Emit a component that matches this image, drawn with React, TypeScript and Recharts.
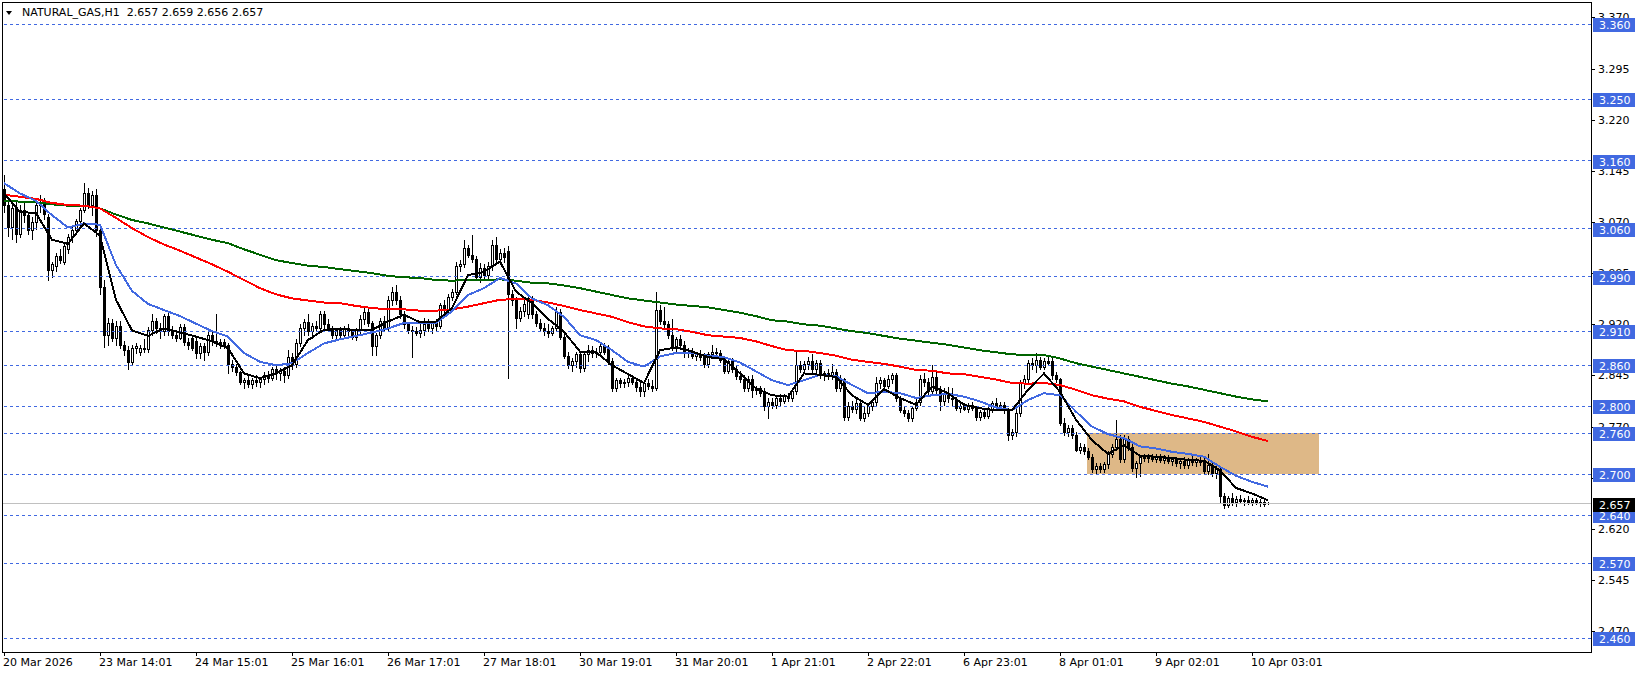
import React from 'react';
import { ComposedChart, Bar, Line, XAxis, YAxis, ReferenceLine, ReferenceArea } from 'recharts';

// H1 candles, [open, high, low, close]
const CANDLES_A = [
  [3.118, 3.139, 3.085, 3.095], [3.095, 3.105, 3.050, 3.062], [3.062, 3.098, 3.045, 3.090], [3.090, 3.100, 3.040, 3.052],
  [3.052, 3.095, 3.048, 3.088], [3.088, 3.098, 3.070, 3.080], [3.080, 3.085, 3.052, 3.058], [3.058, 3.078, 3.045, 3.070],
  [3.070, 3.100, 3.060, 3.095], [3.095, 3.110, 3.085, 3.100], [3.100, 3.105, 3.075, 3.082], [3.078, 3.082, 2.985, 3.000],
  [3.000, 3.012, 2.990, 3.008], [3.005, 3.025, 2.998, 3.020], [3.020, 3.030, 3.010, 3.015], [3.012, 3.040, 3.008, 3.035],
  [3.030, 3.052, 3.025, 3.048], [3.048, 3.062, 3.040, 3.058], [3.058, 3.075, 3.052, 3.072], [3.072, 3.090, 3.065, 3.088],
  [3.088, 3.127, 3.085, 3.112], [3.112, 3.120, 3.090, 3.095], [3.095, 3.115, 3.080, 3.110], [3.110, 3.118, 3.050, 3.058],
  [3.058, 3.062, 2.965, 2.975], [2.975, 2.985, 2.887, 2.905], [2.905, 2.930, 2.890, 2.922], [2.922, 2.928, 2.895, 2.900],
  [2.900, 2.925, 2.890, 2.918], [2.918, 2.925, 2.885, 2.890], [2.890, 2.895, 2.875, 2.882], [2.882, 2.888, 2.855, 2.865],
  [2.865, 2.890, 2.862, 2.885], [2.885, 2.893, 2.878, 2.888], [2.880, 2.890, 2.875, 2.886], [2.886, 2.898, 2.880, 2.884],
  [2.884, 2.916, 2.880, 2.912], [2.912, 2.935, 2.905, 2.925], [2.925, 2.930, 2.908, 2.915], [2.915, 2.922, 2.900, 2.910],
  [2.910, 2.935, 2.905, 2.932], [2.932, 2.938, 2.905, 2.910], [2.910, 2.918, 2.900, 2.905], [2.905, 2.912, 2.896, 2.900],
  [2.900, 2.920, 2.898, 2.916], [2.916, 2.920, 2.890, 2.894], [2.894, 2.900, 2.884, 2.890], [2.900, 2.905, 2.882, 2.886],
  [2.895, 2.900, 2.870, 2.878], [2.878, 2.892, 2.870, 2.888], [2.888, 2.892, 2.868, 2.880], [2.880, 2.910, 2.875, 2.905],
  [2.905, 2.910, 2.890, 2.895], [2.895, 2.935, 2.888, 2.892], [2.892, 2.898, 2.885, 2.894], [2.894, 2.898, 2.885, 2.889],
  [2.889, 2.892, 2.848, 2.862], [2.862, 2.868, 2.852, 2.858], [2.858, 2.862, 2.845, 2.850], [2.850, 2.852, 2.832, 2.835],
  [2.835, 2.842, 2.826, 2.838], [2.838, 2.845, 2.828, 2.832], [2.832, 2.842, 2.827, 2.838], [2.838, 2.846, 2.830, 2.835],
  [2.835, 2.843, 2.828, 2.840], [2.840, 2.850, 2.832, 2.845], [2.845, 2.852, 2.836, 2.842], [2.842, 2.858, 2.838, 2.855],
  [2.855, 2.862, 2.840, 2.848], [2.848, 2.856, 2.838, 2.852], [2.852, 2.858, 2.835, 2.845], [2.845, 2.882, 2.842, 2.872],
  [2.872, 2.878, 2.855, 2.862], [2.862, 2.898, 2.858, 2.893], [2.893, 2.920, 2.888, 2.915], [2.915, 2.928, 2.905, 2.924],
  [2.924, 2.935, 2.905, 2.910], [2.910, 2.922, 2.900, 2.918], [2.918, 2.925, 2.910, 2.915], [2.915, 2.940, 2.912, 2.935],
];

const CANDLES_B = [
  [2.935, 2.940, 2.915, 2.920], [2.920, 2.928, 2.910, 2.913], [2.913, 2.918, 2.900, 2.905], [2.905, 2.915, 2.900, 2.912],
  [2.912, 2.916, 2.900, 2.904], [2.904, 2.918, 2.900, 2.914], [2.914, 2.920, 2.905, 2.910], [2.910, 2.913, 2.898, 2.902],
  [2.902, 2.915, 2.897, 2.912], [2.912, 2.934, 2.908, 2.928], [2.928, 2.944, 2.920, 2.938], [2.938, 2.942, 2.918, 2.922],
  [2.922, 2.925, 2.875, 2.888], [2.888, 2.908, 2.875, 2.905], [2.905, 2.930, 2.900, 2.925], [2.925, 2.932, 2.910, 2.915],
  [2.915, 2.962, 2.910, 2.955], [2.955, 2.975, 2.948, 2.968], [2.968, 2.978, 2.950, 2.955], [2.955, 2.962, 2.930, 2.935],
  [2.935, 2.940, 2.915, 2.920], [2.920, 2.924, 2.908, 2.912], [2.912, 2.918, 2.872, 2.910], [2.910, 2.916, 2.905, 2.908],
  [2.908, 2.920, 2.902, 2.912], [2.912, 2.930, 2.905, 2.920], [2.920, 2.928, 2.910, 2.915], [2.915, 2.925, 2.908, 2.922],
  [2.922, 2.928, 2.912, 2.918], [2.918, 2.952, 2.914, 2.948], [2.948, 2.955, 2.938, 2.942], [2.942, 2.965, 2.938, 2.960],
  [2.960, 2.972, 2.955, 2.968], [2.968, 3.012, 2.964, 3.005], [3.005, 3.015, 2.998, 3.008], [3.008, 3.044, 3.004, 3.032],
  [3.032, 3.036, 3.018, 3.022], [3.022, 3.051, 3.012, 3.016], [3.016, 3.020, 2.985, 2.990], [2.990, 3.010, 2.982, 3.002],
  [3.002, 3.008, 2.985, 2.992], [2.992, 3.012, 2.988, 3.005], [3.005, 3.044, 3.000, 3.036], [3.036, 3.048, 3.012, 3.016],
  [3.016, 3.030, 3.010, 3.025], [3.025, 3.032, 3.012, 3.018], [3.028, 3.035, 2.841, 2.965], [2.965, 2.970, 2.948, 2.955],
  [2.955, 2.960, 2.915, 2.930], [2.930, 2.945, 2.925, 2.940], [2.940, 2.960, 2.932, 2.950], [2.935, 2.962, 2.930, 2.958],
  [2.958, 2.962, 2.930, 2.935], [2.935, 2.940, 2.918, 2.922], [2.922, 2.928, 2.910, 2.915], [2.915, 2.922, 2.905, 2.910],
  [2.910, 2.920, 2.902, 2.908], [2.908, 2.918, 2.904, 2.915], [2.915, 2.945, 2.912, 2.938], [2.938, 2.942, 2.898, 2.902],
  [2.902, 2.906, 2.870, 2.874], [2.874, 2.880, 2.856, 2.860], [2.860, 2.870, 2.851, 2.866], [2.866, 2.880, 2.858, 2.876],
  [2.876, 2.880, 2.850, 2.856], [2.856, 2.880, 2.852, 2.876], [2.876, 2.890, 2.866, 2.882], [2.882, 2.888, 2.872, 2.878],
  [2.878, 2.886, 2.872, 2.880], [2.880, 2.892, 2.876, 2.888], [2.888, 2.892, 2.876, 2.880], [2.885, 2.890, 2.862, 2.866],
  [2.866, 2.870, 2.822, 2.826], [2.826, 2.842, 2.822, 2.838], [2.838, 2.842, 2.828, 2.834], [2.834, 2.840, 2.828, 2.836],
  [2.836, 2.846, 2.830, 2.842], [2.842, 2.846, 2.832, 2.836], [2.836, 2.840, 2.822, 2.828],
];

const CANDLES_C = [
  [2.828, 2.836, 2.815, 2.822], [2.822, 2.838, 2.815, 2.834], [2.834, 2.840, 2.825, 2.830], [2.830, 2.838, 2.822, 2.826],
  [2.826, 2.968, 2.824, 2.941], [2.941, 2.948, 2.920, 2.925], [2.925, 2.945, 2.915, 2.920], [2.920, 2.925, 2.900, 2.905],
  [2.905, 2.928, 2.882, 2.888], [2.888, 2.902, 2.878, 2.898], [2.898, 2.905, 2.885, 2.889], [2.889, 2.895, 2.872, 2.878],
  [2.878, 2.885, 2.872, 2.880], [2.880, 2.886, 2.870, 2.874], [2.874, 2.880, 2.868, 2.876], [2.876, 2.882, 2.868, 2.872],
  [2.872, 2.878, 2.858, 2.862], [2.862, 2.880, 2.858, 2.876], [2.876, 2.890, 2.870, 2.880], [2.880, 2.886, 2.872, 2.878],
  [2.878, 2.882, 2.865, 2.868], [2.868, 2.872, 2.848, 2.852], [2.852, 2.870, 2.848, 2.866], [2.866, 2.870, 2.850, 2.855],
  [2.855, 2.860, 2.840, 2.844], [2.844, 2.852, 2.836, 2.840], [2.840, 2.846, 2.822, 2.826], [2.826, 2.844, 2.822, 2.840],
  [2.840, 2.846, 2.814, 2.824], [2.824, 2.830, 2.818, 2.826], [2.826, 2.830, 2.815, 2.820], [2.820, 2.826, 2.795, 2.800],
  [2.800, 2.812, 2.783, 2.806], [2.806, 2.812, 2.798, 2.802], [2.802, 2.815, 2.798, 2.812], [2.812, 2.818, 2.802, 2.808],
  [2.808, 2.818, 2.805, 2.815], [2.815, 2.820, 2.808, 2.812], [2.812, 2.826, 2.808, 2.822], [2.822, 2.880, 2.818, 2.860],
  [2.860, 2.866, 2.850, 2.855], [2.855, 2.866, 2.850, 2.862], [2.862, 2.872, 2.855, 2.866], [2.866, 2.876, 2.850, 2.855],
  [2.855, 2.868, 2.850, 2.864], [2.864, 2.868, 2.842, 2.846], [2.846, 2.852, 2.838, 2.848], [2.848, 2.854, 2.840, 2.845],
  [2.845, 2.862, 2.840, 2.850], [2.850, 2.855, 2.822, 2.826], [2.826, 2.845, 2.822, 2.838], [2.840, 2.842, 2.780, 2.784],
  [2.784, 2.806, 2.780, 2.800], [2.800, 2.808, 2.792, 2.796], [2.796, 2.810, 2.790, 2.804], [2.804, 2.808, 2.780, 2.782],
  [2.782, 2.800, 2.778, 2.790], [2.790, 2.805, 2.786, 2.800], [2.800, 2.810, 2.795, 2.806], [2.806, 2.843, 2.802, 2.834],
  [2.834, 2.843, 2.826, 2.838], [2.838, 2.842, 2.826, 2.830], [2.830, 2.846, 2.826, 2.840], [2.840, 2.848, 2.834, 2.845],
  [2.845, 2.848, 2.808, 2.812], [2.812, 2.815, 2.792, 2.795], [2.795, 2.800, 2.785, 2.790], [2.790, 2.795, 2.778, 2.782],
  [2.782, 2.800, 2.778, 2.798], [2.798, 2.810, 2.794, 2.806], [2.806, 2.845, 2.802, 2.840], [2.840, 2.848, 2.830, 2.836],
  [2.836, 2.842, 2.818, 2.822], [2.822, 2.860, 2.818, 2.843], [2.843, 2.850, 2.820, 2.824], [2.824, 2.830, 2.795, 2.808],
  [2.808, 2.826, 2.802, 2.820], [2.820, 2.828, 2.806, 2.812],
];

const CANDLES_D = [
  [2.812, 2.826, 2.800, 2.810], [2.810, 2.814, 2.795, 2.798], [2.798, 2.804, 2.792, 2.800], [2.800, 2.805, 2.794, 2.796],
  [2.796, 2.804, 2.792, 2.802], [2.802, 2.806, 2.794, 2.797], [2.797, 2.800, 2.780, 2.784], [2.784, 2.795, 2.780, 2.792],
  [2.792, 2.796, 2.782, 2.786], [2.786, 2.800, 2.782, 2.796], [2.796, 2.808, 2.792, 2.804], [2.804, 2.812, 2.795, 2.800],
  [2.800, 2.806, 2.794, 2.802], [2.802, 2.806, 2.790, 2.794], [2.794, 2.798, 2.750, 2.758], [2.758, 2.766, 2.752, 2.762],
  [2.762, 2.796, 2.756, 2.790], [2.790, 2.838, 2.786, 2.834], [2.834, 2.845, 2.826, 2.840], [2.840, 2.868, 2.836, 2.864],
  [2.864, 2.870, 2.855, 2.860], [2.860, 2.878, 2.850, 2.868], [2.868, 2.872, 2.854, 2.858], [2.858, 2.870, 2.855, 2.866],
  [2.866, 2.872, 2.860, 2.863], [2.866, 2.870, 2.840, 2.845], [2.845, 2.850, 2.835, 2.840], [2.840, 2.842, 2.772, 2.776],
  [2.776, 2.782, 2.758, 2.762], [2.762, 2.772, 2.756, 2.768], [2.768, 2.772, 2.754, 2.758], [2.758, 2.762, 2.734, 2.736],
  [2.736, 2.746, 2.732, 2.740], [2.740, 2.745, 2.730, 2.734], [2.734, 2.738, 2.722, 2.726], [2.726, 2.730, 2.704, 2.708],
  [2.708, 2.716, 2.702, 2.712], [2.712, 2.716, 2.704, 2.708], [2.708, 2.718, 2.704, 2.715], [2.715, 2.734, 2.710, 2.730],
  [2.730, 2.745, 2.726, 2.740], [2.740, 2.780, 2.735, 2.752], [2.752, 2.758, 2.718, 2.722], [2.722, 2.758, 2.718, 2.752],
  [2.752, 2.756, 2.736, 2.740], [2.740, 2.744, 2.705, 2.710], [2.710, 2.720, 2.696, 2.716], [2.716, 2.728, 2.698, 2.725],
  [2.725, 2.730, 2.720, 2.724], [2.724, 2.730, 2.718, 2.726], [2.726, 2.730, 2.720, 2.722], [2.722, 2.730, 2.718, 2.727],
  [2.727, 2.730, 2.718, 2.721], [2.721, 2.728, 2.716, 2.724], [2.724, 2.728, 2.716, 2.720], [2.720, 2.726, 2.714, 2.722],
  [2.722, 2.726, 2.712, 2.716], [2.716, 2.724, 2.710, 2.720], [2.720, 2.726, 2.710, 2.714], [2.714, 2.724, 2.710, 2.722],
  [2.722, 2.728, 2.714, 2.718], [2.718, 2.724, 2.712, 2.721], [2.721, 2.726, 2.714, 2.718], [2.718, 2.726, 2.702, 2.705],
  [2.705, 2.730, 2.700, 2.714], [2.714, 2.718, 2.698, 2.702], [2.702, 2.712, 2.695, 2.708], [2.708, 2.712, 2.660, 2.668],
  [2.668, 2.672, 2.650, 2.655], [2.655, 2.668, 2.652, 2.665], [2.665, 2.672, 2.655, 2.660], [2.660, 2.668, 2.654, 2.664],
  [2.664, 2.670, 2.658, 2.661], [2.661, 2.666, 2.655, 2.663], [2.663, 2.668, 2.657, 2.660], [2.660, 2.665, 2.655, 2.662],
  [2.662, 2.666, 2.656, 2.658], [2.658, 2.664, 2.654, 2.660], [2.660, 2.663, 2.653, 2.656], [2.657, 2.659, 2.656, 2.657],
];

// moving averages, one reading every 4th bar
const MA_FAST = [
  3.112, 3.085, 3.083, 3.044, 3.038, 3.068, 3.050, 2.956, 2.911, 2.903,
  2.914, 2.908, 2.902, 2.895, 2.885, 2.848, 2.841, 2.848, 2.860, 2.897,
  2.912, 2.913, 2.912, 2.912, 2.924, 2.934, 2.923, 2.924, 2.944, 2.992,
  2.997, 3.012, 2.968, 2.951, 2.928, 2.909, 2.880, 2.879, 2.860, 2.847,
  2.834, 2.882, 2.886, 2.880, 2.872, 2.869, 2.848, 2.826, 2.816, 2.814,
  2.848, 2.846, 2.843, 2.816, 2.802, 2.825, 2.812, 2.802, 2.829, 2.819,
  2.802, 2.797, 2.794, 2.794, 2.824, 2.848, 2.821, 2.780, 2.750, 2.730,
  2.743, 2.727, 2.726, 2.724, 2.721, 2.720, 2.706, 2.680, 2.672, 2.662,
];
const MA_MID = [
  3.127, 3.112, 3.101, 3.080, 3.062, 3.068, 3.066, 3.007, 2.969, 2.950,
  2.941, 2.932, 2.921, 2.910, 2.902, 2.878, 2.865, 2.860, 2.863, 2.878,
  2.892, 2.898, 2.903, 2.908, 2.914, 2.922, 2.922, 2.922, 2.939, 2.963,
  2.973, 2.988, 2.980, 2.958, 2.948, 2.931, 2.904, 2.897, 2.882, 2.865,
  2.858, 2.873, 2.878, 2.878, 2.874, 2.872, 2.864, 2.851, 2.838, 2.831,
  2.838, 2.846, 2.844, 2.831, 2.819, 2.821, 2.819, 2.812, 2.816, 2.818,
  2.814, 2.807, 2.798, 2.794, 2.809, 2.819, 2.816, 2.792, 2.770, 2.759,
  2.753, 2.741, 2.738, 2.733, 2.730, 2.726, 2.711, 2.698, 2.689, 2.682,
];
const MA_SLOW = [
  3.110, 3.107, 3.104, 3.098, 3.095, 3.094, 3.090, 3.076, 3.061, 3.048,
  3.037, 3.028, 3.018, 3.008, 2.997, 2.985, 2.973, 2.964, 2.958, 2.955,
  2.952, 2.951, 2.947, 2.944, 2.942, 2.942, 2.940, 2.940, 2.942, 2.946,
  2.951, 2.956, 2.957, 2.956, 2.952, 2.947, 2.941, 2.936, 2.931, 2.923,
  2.917, 2.914, 2.913, 2.909, 2.904, 2.902, 2.900, 2.895, 2.888, 2.882,
  2.881, 2.878, 2.874, 2.868, 2.865, 2.862, 2.858, 2.853, 2.852, 2.848,
  2.847, 2.843, 2.839, 2.834, 2.833, 2.834, 2.831, 2.824, 2.816, 2.811,
  2.807, 2.799, 2.793, 2.787, 2.782, 2.777, 2.770, 2.763, 2.755, 2.749,
];
const MA_LONG = [
  3.101, 3.100, 3.099, 3.096, 3.094, 3.094, 3.090, 3.081, 3.073, 3.068,
  3.062, 3.056, 3.050, 3.044, 3.039, 3.030, 3.022, 3.014, 3.010, 3.006,
  3.004, 3.001, 2.998, 2.995, 2.991, 2.989, 2.988, 2.985, 2.984, 2.985,
  2.985, 2.986, 2.984, 2.981, 2.980, 2.977, 2.973, 2.968, 2.963, 2.958,
  2.955, 2.952, 2.949, 2.947, 2.945, 2.941, 2.937, 2.932, 2.926, 2.924,
  2.920, 2.918, 2.914, 2.910, 2.907, 2.903, 2.899, 2.896, 2.893, 2.890,
  2.886, 2.882, 2.879, 2.876, 2.875, 2.875, 2.870, 2.863, 2.858, 2.853,
  2.848, 2.843, 2.838, 2.833, 2.829, 2.824, 2.819, 2.814, 2.810, 2.807,
];

const LEVELS = [3.36, 3.25, 3.16, 3.06, 2.99, 2.91, 2.86, 2.8, 2.76, 2.7, 2.64, 2.57, 2.46];
const PRICE_TICKS = [3.37, 3.295, 3.22, 3.145, 3.07, 2.995, 2.92, 2.845, 2.77, 2.695, 2.62, 2.545, 2.47];
const LAST_PRICE = 2.657;

const DATE_TICK_BARS = [0, 24, 48, 72, 96, 120, 144, 168, 192, 216, 240, 264, 288, 312];
const DATE_LABELS = [
  '20 Mar 2026', '23 Mar 14:01', '24 Mar 15:01', '25 Mar 16:01', '26 Mar 17:01', '27 Mar 18:01', '30 Mar 19:01',
  '31 Mar 20:01', '1 Apr 21:01', '2 Apr 22:01', '6 Apr 23:01', '8 Apr 01:01', '9 Apr 02:01', '10 Apr 03:01',
];

const BOX_BARS = [270.75, 328.75];
const BOX_PRICES = [2.7, 2.76];

const FONT = '"DejaVu Sans", Verdana, sans-serif';
const BLUE = '#4169E1';

const CANDLES = [...CANDLES_A, ...CANDLES_B, ...CANDLES_C, ...CANDLES_D];
const data = CANDLES.map(([o, h, l, c], i) => {
  const k = i % 4 === 0 ? i / 4 : -1;
  return {
    i, o, h, l, c,
    range: [l, h],
    fast: k >= 0 ? MA_FAST[k] : null,
    mid: k >= 0 ? MA_MID[k] : null,
    slow: k >= 0 ? MA_SLOW[k] : null,
    long: k >= 0 ? MA_LONG[k] : null,
  };
});

const Candle = (props: any) => {
  const { x, y, width, height, payload } = props;
  if (payload == null || !isFinite(y)) return null;
  const cx = Math.round(x + width / 2);
  const per = height / (payload.h - payload.l);
  const yo = y + (payload.h - payload.o) * per;
  const yc = y + (payload.h - payload.c) * per;
  const top = Math.round(Math.min(yo, yc));
  const bot = Math.round(Math.max(yo, yc));
  const bull = payload.c >= payload.o;
  return (
    <g>
      <line x1={cx + 0.5} x2={cx + 0.5} y1={Math.round(y)} y2={Math.round(y + height) + 1} stroke="#000" />
      <rect x={cx - 0.5} y={top + 0.5} width={2} height={Math.max(bot - top, 0)} fill={bull ? '#fff' : '#000'} stroke="#000" />
    </g>
  );
};

const PriceTick = (props: any) => {
  const { x, y, payload } = props;
  const v = payload.value;
  const yy = Math.round(y);
  const isLast = v === LAST_PRICE;
  if (isLast || LEVELS.includes(v)) {
    return (
      <g>
        <rect x={x + 2} y={yy - 6} width={42} height={14} fill={isLast ? '#000' : BLUE} />
        <text x={x + 8} y={yy + 5} fill="#fff" fontSize={11} fontFamily={FONT}>{v.toFixed(3)}</text>
      </g>
    );
  }
  return (
    <g>
      <line x1={x} x2={x + 4} y1={yy + 0.5} y2={yy + 0.5} stroke="#000" />
      <text x={x + 7} y={yy + 4} fill="#000" fontSize={11} fontFamily={FONT}>{v.toFixed(3)}</text>
    </g>
  );
};

const DateTick = (props: any) => {
  const { x, y, payload } = props;
  const idx = DATE_TICK_BARS.indexOf(payload.value);
  const xx = Math.round(x);
  return (
    <g>
      <line x1={xx + 0.5} x2={xx + 0.5} y1={y} y2={y + 4} stroke="#000" />
      <text x={xx - 1} y={y + 14} fill="#000" fontSize={11} fontFamily={FONT}>{DATE_LABELS[idx]}</text>
    </g>
  );
};

export default function App() {
  return (
    <div style={{ position: 'fixed', left: 0, top: 0, width: 1641, height: 676, background: '#fff' }}>
      <style>{'.mt svg *{shape-rendering:crispEdges}'}</style>
      <div className="mt">
        <ComposedChart width={1641} height={676} data={data} margin={{ top: 3, right: 0, bottom: 0, left: 2 }}>
          <XAxis
            dataKey="i"
            type="number"
            domain={[-0.5, 396.75]}
            allowDataOverflow
            ticks={DATE_TICK_BARS}
            interval={0}
            tick={(p: any) => <DateTick {...p} />}
            tickSize={0}
            tickMargin={0}
            axisLine={false}
            height={24}
          />
          <YAxis
            orientation="right"
            type="number"
            domain={[2.4395, 3.3912]}
            allowDataOverflow
            ticks={[...PRICE_TICKS, ...LEVELS, LAST_PRICE]}
            interval={0}
            tick={(p: any) => <PriceTick {...p} />}
            tickSize={0}
            tickMargin={0}
            axisLine={false}
            width={50}
          />
          <ReferenceArea x1={BOX_BARS[0]} x2={BOX_BARS[1]} y1={BOX_PRICES[0]} y2={BOX_PRICES[1]} fill="#DEB887" fillOpacity={1} stroke="none" />
          {LEVELS.map((v) => (
            <ReferenceLine key={v} y={v} stroke={BLUE} strokeDasharray="3 3" />
          ))}
          <ReferenceLine y={LAST_PRICE} stroke="#C0C0C0" />
          <Bar dataKey="range" shape={(p: any) => <Candle {...p} />} isAnimationActive={false} />
          <Line dataKey="long" stroke="#006400" strokeWidth={2} dot={false} connectNulls isAnimationActive={false} />
          <Line dataKey="slow" stroke="#FF0000" strokeWidth={2} dot={false} connectNulls isAnimationActive={false} />
          <Line dataKey="mid" stroke={BLUE} strokeWidth={2} dot={false} connectNulls isAnimationActive={false} />
          <Line dataKey="fast" stroke="#000" strokeWidth={2} dot={false} connectNulls isAnimationActive={false} />
        </ComposedChart>
      </div>
      <div
        style={{
          position: 'absolute', left: 2, top: 2, width: 1590, height: 651,
          boxSizing: 'border-box', border: '1px solid #000', pointerEvents: 'none',
        }}
      />
      <svg width={300} height={22} style={{ position: 'absolute', left: 0, top: 0 }}>
        <polygon points="6,11 12,11 9,15" fill="#000" />
        <text x={22} y={16} fontSize={11} fontFamily={FONT} fill="#000" xmlSpace="preserve">
          {'NATURAL_GAS,H1  2.657 2.659 2.656 2.657'}
        </text>
      </svg>
    </div>
  );
}
